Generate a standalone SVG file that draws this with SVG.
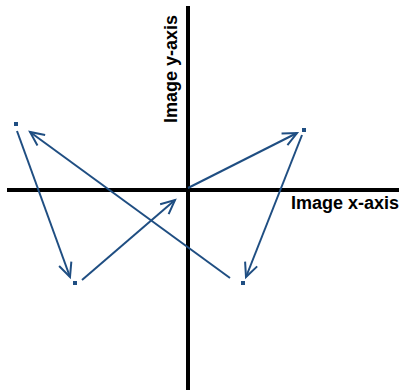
<svg xmlns="http://www.w3.org/2000/svg" width="399" height="390" viewBox="0 0 399 390">
<style>
.axis{stroke:#000;stroke-width:4;fill:none}
.vec{stroke:#1f4e82;stroke-width:2;fill:none}
.pt{fill:#1f4e82}
.lbl{font-family:"Liberation Sans",Arial,sans-serif;font-weight:bold;font-size:18px;fill:#000}
</style>
<defs>
<marker id="ah" markerUnits="userSpaceOnUse" markerWidth="20" markerHeight="20" viewBox="-16 -10 20 20" refX="0" refY="0" orient="auto">
<path d="M -14 -6.5 L 0 0 L -14 6.5" fill="none" stroke="#1f4e82" stroke-width="2"/>
</marker>
</defs>
<rect width="399" height="390" fill="#fff"/>
<g id="axes">
<line class="axis" x1="188" y1="6" x2="188" y2="390"/>
<line class="axis" x1="7" y1="190" x2="399" y2="190"/>
</g>
<g id="labels">
<text class="lbl" x="291" y="209">Image x-axis</text>
<text class="lbl" transform="translate(177,123) rotate(-90)">Image y-axis</text>
</g>
<g id="points">
<rect id="p1" class="pt" x="14" y="122" width="4" height="4"/>
<rect id="p2" class="pt" x="73" y="281" width="4" height="4"/>
<rect id="p3" class="pt" x="302" y="128" width="4" height="4"/>
<rect id="p4" class="pt" x="241" y="281" width="4" height="4"/>
</g>
<g id="connectors">
<line class="vec" x1="17" y1="131" x2="70" y2="277" marker-end="url(#ah)"/>
<line class="vec" x1="82" y1="280" x2="175" y2="200" marker-end="url(#ah)"/>
<line class="vec" x1="188" y1="188" x2="297" y2="133" marker-end="url(#ah)"/>
<line class="vec" x1="302" y1="135" x2="246" y2="277" marker-end="url(#ah)"/>
<line class="vec" x1="230" y1="278" x2="30" y2="132" marker-end="url(#ah)"/>
</g>
</svg>
